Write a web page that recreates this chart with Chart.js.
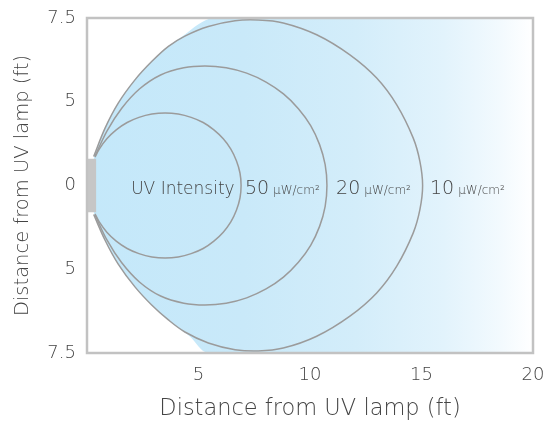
<!DOCTYPE html>
<html><head><meta charset="utf-8">
<script src="https://cdn.jsdelivr.net/npm/chart.js@4.4.1/dist/chart.umd.min.js"></script>
<style>html,body{margin:0;padding:0;background:#fff}#wrap{width:549px;height:423px;position:relative}</style>
</head><body><div id="wrap"><canvas id="c"></canvas></div>
<script>
// ---- data (feet) ----
const xTickLabels = ['', '5', '10', '15', '20'];
const yTickLabels = ['7.5', '5', '0', '5', '7.5'];
const axisTitle = 'Distance from UV lamp (ft)';

// 10 µW/cm² contour
const c10X = [0.30,0.81,1.40,2.15,2.90,3.65,4.39,5.44,6.64,7.68,8.80,10.30,11.79,12.99,13.89,14.63,14.93,15.05,14.93,14.63,13.89,12.99,11.79,10.30,8.80,7.68,6.64,5.44,4.39,3.65,2.90,2.15,1.40,0.81,0.30];
const c10Y = [1.30,2.57,3.69,4.73,5.55,6.23,6.69,7.12,7.38,7.41,7.28,6.75,5.85,4.81,3.61,2.12,1.07,0.00,-1.07,-2.12,-3.61,-4.81,-5.85,-6.75,-7.28,-7.41,-7.35,-7.05,-6.56,-6.02,-5.35,-4.54,-3.52,-2.45,-1.30];
// 20 µW/cm² contour
const c20X = [0.36,0.90,1.55,2.35,3.30,4.34,5.29,6.24,7.16,8.03,8.81,9.48,10.03,10.43,10.68,10.76,10.68,10.43,10.03,9.48,8.81,8.03,7.16,6.24,5.29,4.34,3.30,2.35,1.55,0.90,0.36];
const c20Y = [1.32,2.45,3.45,4.32,4.95,5.27,5.35,5.27,5.03,4.63,4.10,3.44,2.68,1.83,0.93,0.00,-0.93,-1.83,-2.68,-3.44,-4.10,-4.63,-5.03,-5.27,-5.35,-5.27,-4.95,-4.32,-3.45,-2.45,-1.32];
// 50 µW/cm² contour
const c50X = [0.36,0.55,0.89,1.31,1.80,2.33,2.91,3.50,4.09,4.67,5.21,5.69,6.11,6.45,6.70,6.86,6.91,6.86,6.70,6.45,6.11,5.69,5.21,4.67,4.09,3.50,2.91,2.33,1.80,1.31,0.89,0.55,0.36];
const c50Y = [1.27,1.63,2.09,2.49,2.82,3.05,3.20,3.25,3.20,3.05,2.82,2.49,2.09,1.63,1.11,0.56,0.00,-0.56,-1.11,-1.63,-2.09,-2.49,-2.82,-3.05,-3.20,-3.25,-3.20,-3.05,-2.82,-2.49,-2.09,-1.63,-1.27];

// light-blue coverage area edges
const areaTopX = [0.30,0.81,1.40,2.15,2.90,3.65,4.39,5.00,5.65,20];
const areaTopY = [1.25,2.57,3.69,4.73,5.55,6.23,6.76,7.22,7.50,7.50];
const areaBotX = [0.30,0.81,1.40,2.15,2.90,3.65,4.60,5.44,20];
const areaBotY = [-1.22,-2.45,-3.52,-4.54,-5.35,-6.02,-6.75,-7.50,-7.50];

// lamp
const lampX = [0, 0.42];
const lampTop = 1.2, lampBottom = -1.2;

// annotations
const intensityLabel = 'UV Intensity';
const intensityLabelX = 6.62;
const intensityValues = ['50', '20', '10'];
const intensityValueX = [7.08, 11.17, 15.38];
const intensityUnit = 'μW/cm²';
const labelBaselineY = -0.38;

const pts = (xs, ys) => xs.map((x, i) => ({x, y: ys[i]}));

const FONT = "'DejaVu Sans'";
const TXT = '#444444';

function areaGradient(ctx) {
  const ca = ctx.chart.chartArea;
  if (!ca) return '#c6e8fa';
  const g = ctx.chart.ctx.createLinearGradient(ca.left, 0, ca.right, 0);
  g.addColorStop(0, '#c4e8fa');
  g.addColorStop(0.35, '#c9e9f9');
  g.addColorStop(0.6, '#d3edfa');
  g.addColorStop(0.8, '#e2f3fc');
  g.addColorStop(0.93, '#f3fafe');
  g.addColorStop(1, '#ffffff');
  return g;
}

const overlay = {
  id: 'overlay',
  afterDatasetsDraw(chart) {
    const {ctx, chartArea: ca, scales: {x, y}} = chart;
    ctx.save();
    ctx.strokeStyle = '#c2c2c2';
    ctx.lineWidth = 2.5;
    ctx.strokeRect(ca.left, ca.top, ca.right - ca.left, ca.bottom - ca.top);
    ctx.fillStyle = TXT;
    ctx.textBaseline = 'alphabetic';
    const by = y.getPixelForValue(labelBaselineY);
    ctx.font = `200 17px ${FONT}`;
    ctx.textAlign = 'right';
    ctx.fillText(intensityLabel, x.getPixelForValue(intensityLabelX), by);
    ctx.textAlign = 'left';
    intensityValues.forEach((v, i) => {
      const px = x.getPixelForValue(intensityValueX[i]);
      ctx.font = `200 19px ${FONT}`;
      ctx.fillText(v, px, by);
      const w = ctx.measureText(v).width;
      ctx.font = `200 12px ${FONT}`;
      ctx.fillText(intensityUnit, px + w + 4, by);
    });
    ctx.restore();
  }
};

const lineStyle = {showLine: true, borderColor: '#9b9b9b', borderWidth: 1.5, pointRadius: 0, tension: 0.35, fill: false, order: 5};

new Chart(document.getElementById('c'), {
  type: 'scatter',
  data: {
    datasets: [
      {data: pts(lampX, lampX.map(() => lampTop)), showLine: true, borderWidth: 0, pointRadius: 0, backgroundColor: '#c6c6c6', fill: '+1', order: 1},
      {data: pts(lampX, lampX.map(() => lampBottom)), showLine: true, borderWidth: 0, pointRadius: 0, fill: false, order: 1},
      {data: pts(c50X, c50Y), ...lineStyle},
      {data: pts(c20X, c20Y), ...lineStyle},
      {data: pts(c10X, c10Y), ...lineStyle},
      {data: pts(areaTopX, areaTopY), showLine: true, borderWidth: 0, pointRadius: 0, tension: 0.3, backgroundColor: areaGradient, fill: '+1', order: 10},
      {data: pts(areaBotX, areaBotY), showLine: true, borderWidth: 0, pointRadius: 0, tension: 0.3, fill: false, order: 10}
    ]
  },
  options: {
    responsive: true, maintainAspectRatio: false, animation: false,
    layout: {padding: {left: 0, right: 16, top: 18, bottom: 0}},
    plugins: {legend: {display: false}, tooltip: {enabled: false}},
    scales: {
      x: {
        type: 'linear', min: 0, max: 20,
        grid: {display: false, drawTicks: false}, border: {display: false},
        ticks: {stepSize: 5, padding: 12, color: TXT, font: {family: FONT, size: 18, weight: 200},
          callback: (v, i) => xTickLabels[i]},
        title: {display: true, text: axisTitle, color: TXT, font: {family: FONT, size: 22.5, weight: 200}, padding: {top: 0, bottom: 0}},
        afterFit(s) { s.height = 70; s.paddingLeft = 0; s.paddingRight = 0; }
      },
      y: {
        type: 'linear', min: -7.5, max: 7.5,
        grid: {display: false, drawTicks: false}, border: {display: false},
        ticks: {stepSize: 3.75, padding: 11, color: TXT, font: {family: FONT, size: 18, weight: 200},
          callback: (v, i) => yTickLabels[i]},
        title: {display: true, text: axisTitle, color: TXT, font: {family: FONT, size: 19.5, weight: 200}, padding: {top: 11, bottom: 0}},
        afterFit(s) { s.width = 87; s.paddingTop = 0; s.paddingBottom = 0; }
      }
    }
  },
  plugins: [overlay]
});
</script></body></html>
